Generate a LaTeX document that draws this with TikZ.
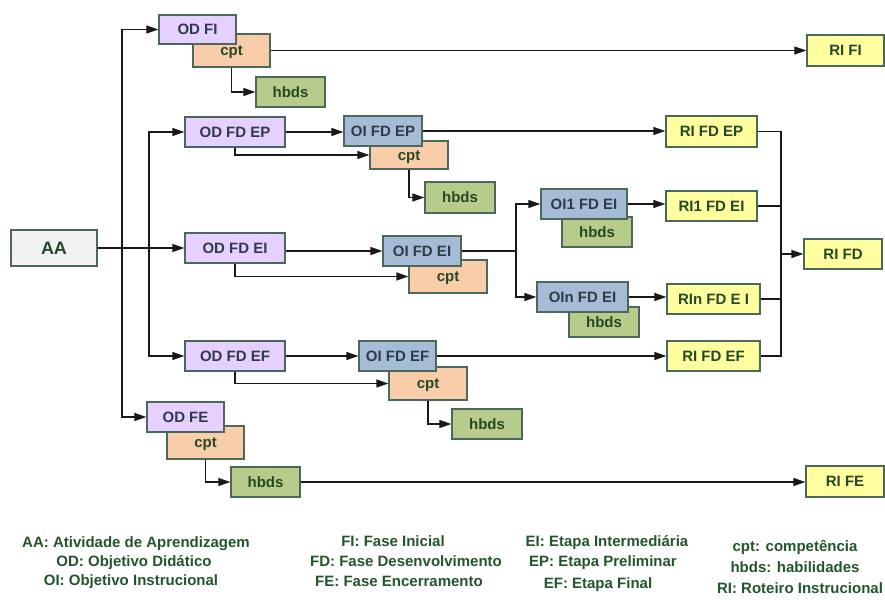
\documentclass[tikz,border=0pt]{standalone}
\usepackage{fontspec}
\setmainfont{Liberation Sans}
\usetikzlibrary{arrows.meta}

\definecolor{boxline}{RGB}{75,105,90}
\definecolor{odfill}{RGB}{230,208,255}
\definecolor{oifill}{RGB}{166,188,214}
\definecolor{cptfill}{RGB}{250,205,170}
\definecolor{hbdsfill}{RGB}{183,204,138}
\definecolor{rifill}{RGB}{255,255,160}
\definecolor{aafill}{RGB}{242,242,242}
\definecolor{labelgreen}{RGB}{38,72,38}
\definecolor{labelslate}{RGB}{45,60,70}
\definecolor{legendgreen}{RGB}{35,85,45}
\definecolor{wire}{RGB}{25,25,25}

\tikzset{
  box/.style={draw=boxline, line width=1.3pt, inner sep=0pt,
    minimum height=30pt, text height=10.7pt, text depth=0pt,
    font=\bfseries\fontsize{15}{15}\selectfont, text=labelgreen},
  odbox/.style={box, fill=odfill, text=labelslate},
  oibox/.style={box, fill=oifill, text=labelslate},
  cptbox/.style={box, fill=cptfill, minimum height=33pt},
  hbdsbox/.style={box, fill=hbdsfill, minimum width=70pt},
  ribox/.style={box, fill=rifill},
  aabox/.style={box, fill=aafill, minimum width=86pt, minimum height=36pt,
    text height=13pt, font=\bfseries\fontsize{18}{18}\selectfont},
  legend/.style={anchor=base, inner sep=0pt, text=legendgreen,
    font=\bfseries\fontsize{15}{15}\selectfont},
  wireline/.style={draw=wire, line width=1.3pt},
  arr/.style={wireline, -{Triangle[length=12pt,width=8pt]}},
}

\begin{document}
\begin{tikzpicture}[x=1pt,y=-1pt]
\useasboundingbox (0,0) rectangle (885,599);

% junction points of the bus lines
\coordinate (busA) at (122,248);
\coordinate (busB) at (149,248);
\coordinate (split) at (516,251);
\coordinate (busR) at (781,254);

% ---- boxes (lower layers first so the objective boxes sit on top)
\node[aabox] (aa) at (54,248) {AA};

\node[cptbox, minimum width=77pt] (cptfi) at (231.5,50.5) {cpt};
\node[odbox, minimum width=77pt, minimum height=29pt] (odfi) at (197.5,29.5) {OD FI};
\node[hbdsbox, minimum width=69pt] (hbdsfi) at (290.5,92) {hbds};
\node[ribox, minimum width=77pt, minimum height=31pt] (rifi) at (845.5,50.5) {RI FI};

\node[odbox, minimum width=100pt] (odep) at (235,132) {OD FD EP};
\node[cptbox, minimum width=78pt, minimum height=28pt] (cptep) at (409,155) {cpt};
\node[oibox, minimum width=78pt] (oiep) at (383,131) {OI FD EP};
\node[hbdsbox, minimum height=31pt] (hbdsep) at (460,197.5) {hbds};
\node[ribox, minimum width=91pt, minimum height=31pt] (riep) at (711.5,131.5) {RI FD EP};

\node[odbox, minimum width=100pt] (odei) at (235,248) {OD FD EI};
\node[cptbox, minimum width=78pt] (cptei) at (448,276.5) {cpt};
\node[oibox, minimum width=78pt] (oiei) at (422,251) {OI FD EI};

\node[hbdsbox] (hbds1) at (597,232) {hbds};
\node[oibox, minimum width=86pt] (oi1) at (584,204) {OI1 FD EI};
\node[ribox, minimum width=91pt] (ri1) at (711.5,206) {RI1 FD EI};

\node[hbdsbox] (hbdsn) at (604,322) {hbds};
\node[oibox, minimum width=91pt] (oin) at (582.5,297) {OIn FD EI};
\node[ribox, minimum width=93pt] (rin) at (713.5,299) {RIn FD E I};

\node[ribox, minimum width=78pt] (rifd) at (843,254) {RI FD};

\node[odbox, minimum width=100pt] (odef) at (235,356) {OD FD EF};
\node[cptbox, minimum width=78pt] (cptef) at (428,383.5) {cpt};
\node[oibox, minimum width=77pt] (oief) at (397.5,356) {OI FD EF};
\node[hbdsbox] (hbdsef) at (487,424) {hbds};
\node[ribox, minimum width=93pt] (rief) at (713.5,356) {RI FD EF};

\node[cptbox, minimum width=77pt] (cptfe) at (205.5,442.5) {cpt};
\node[odbox, minimum width=77pt] (odfe) at (185.5,417) {OD FE};
\node[hbdsbox, minimum width=69pt] (hbdsfe) at (265.5,482) {hbds};
\node[ribox, minimum width=78pt, minimum height=31pt] (rife) at (845,481.5) {RI FE};

% ---- connectors
% from the learning activity to the didactic objectives
\draw[arr] (aa) -- (odei);
\draw[wireline] (busA |- odfi) -- (busA |- odfe);
\draw[arr] (busA) |- (odfi);
\draw[arr] (busA) |- (odfe);
\draw[wireline] (busB |- odep) -- (busB |- odef);
\draw[arr] (busB) |- (odep);
\draw[arr] (busB) |- (odef);

% initial phase
\draw[arr] (cptfi.south) |- (hbdsfi.west);
\draw[arr] (cptfi.east) -- (rifi.west);

% preliminary stage
\draw[arr] (odep.east) -- (odep.east -| oiep.west);
\draw[arr] (odep.south) |- (cptep.west);
\draw[arr] (cptep.south) |- (hbdsep.west);
\draw[arr] (oiep.east) -- (oiep.east -| riep.west);

% intermediate stage
\draw[arr] (odei.east |- oiei) -- (oiei.west);
\draw[arr] (odei.south) |- (cptei.west);
\draw[wireline] (oiei.east) -- (split);
\draw[arr] (split) |- (oi1.west);
\draw[arr] (split) |- (oin.west);
\draw[arr] (oi1.east) -- (oi1.east -| ri1.west);
\draw[arr] (oin.east) -- (oin.east -| rin.west);

% final stage
\draw[arr] (odef.east) -- (oief.west);
\draw[arr] (odef.south) |- (cptef.west);
\draw[arr] (cptef.south) |- (hbdsef.west);
\draw[arr] (oief.east) -- (rief.west);

% development phase collector
\draw[wireline] (riep.east) -| (busR);
\draw[wireline] (rief.east) -| (busR);
\draw[wireline] (ri1.east) -- (ri1.east -| busR);
\draw[wireline] (rin.east) -- (rin.east -| busR);
\draw[arr] (busR) -- (rifd.west);

% closing phase
\draw[arr] (cptfe.south) |- (hbdsfe.west);
\draw[arr] (hbdsfe.east) -- (hbdsfe.east -| rife.west);

% ---- legend
\node[legend] (lg1) at (136,547) {AA: Atividade de Aprendizagem};
\node[legend] (lg2) at (134,566) {OD: Objetivo Didático};
\node[legend] (lg3) at (131,585) {OI: Objetivo Instrucional};
\node[legend] (lg4) at (393,546) {FI: Fase Inicial};
\node[legend] (lg5) at (406,566) {FD: Fase Desenvolvimento};
\node[legend] (lg6) at (399,586) {FE: Fase Encerramento};
\node[legend] (lg7) at (607,546) {EI: Etapa Intermediária};
\node[legend] (lg8) at (603,566) {EP: Etapa Preliminar};
\node[legend] (lg9) at (598,588) {EF: Etapa Final};
\node[legend] (lg10) at (795,551) {cpt: competência};
\node[legend] (lg11) at (795,572) {hbds: habilidades};
\node[legend] (lg12) at (800,593) {RI: Roteiro Instrucional};
\end{tikzpicture}
\end{document}
